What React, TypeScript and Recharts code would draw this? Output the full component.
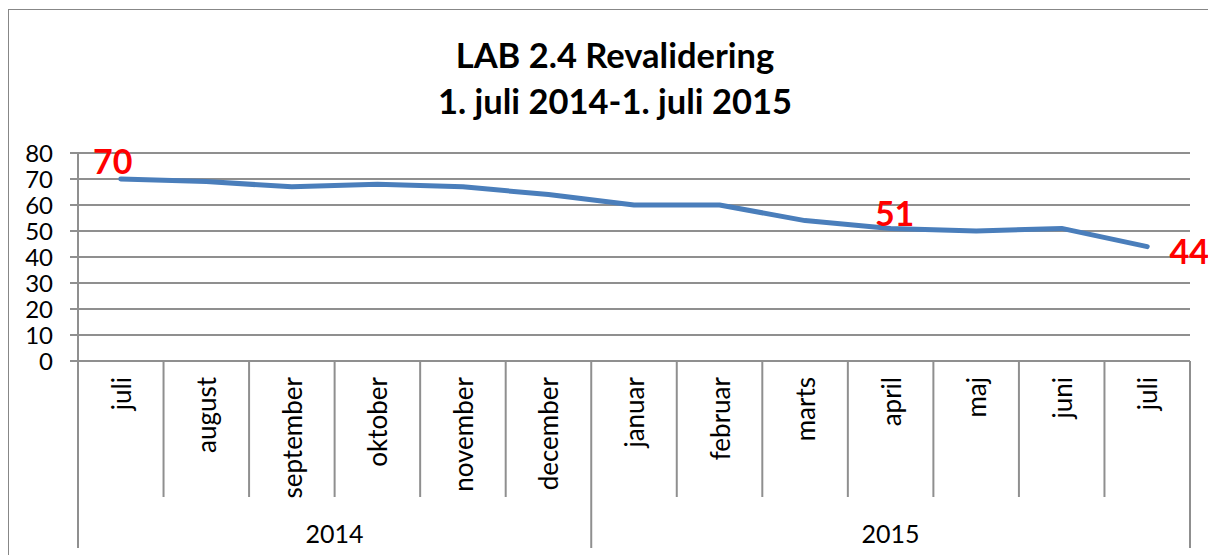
import { LineChart, Line, XAxis, YAxis, CartesianGrid, LabelList } from "recharts";

// ── Data ─────────────────────────────────────────────────────────────────────
const MONTHS = [
  "juli", "august", "september", "oktober", "november", "december",
  "januar", "februar", "marts", "april", "maj", "juni", "juli",
];
const YEARS = [
  "2014", "2014", "2014", "2014", "2014", "2014",
  "2015", "2015", "2015", "2015", "2015", "2015", "2015",
];
const VALUES = [70, 69, 67, 68, 67, 64, 60, 60, 54, 51, 50, 51, 44];
const Y_TICKS = [0, 10, 20, 30, 40, 50, 60, 70, 80];
// points that carry a red value label
const LABELED = [0, 9, 12];

const TITLE_1 = "LAB 2.4 Revalidering";
const TITLE_2 = "1. juli 2014-1. juli 2015";

// ── Styles ───────────────────────────────────────────────────────────────────
const FONT = "Lato, 'Open Sans', sans-serif";
const LINE_COLOR = "#4a7ebb";
const GRID_COLOR = "#8f8f8f";
const LABEL_COLOR = "#ff0000";
const MONTH_AXIS_H = 136;
const YEAR_AXIS_H = 53;
const LABEL_OFFSETS: Record<number, [number, number]> = {
  0: [-8, -19],
  9: [4, -16],
  12: [42, 4],
};

const data = MONTHS.map((m, i) => ({
  key: `${YEARS[i]} ${m}`,
  month: m,
  year: YEARS[i],
  value: VALUES[i],
}));

const isGroupStart = (i: number) => i === 0 || YEARS[i] !== YEARS[i - 1];

function bandOf(props: any) {
  const { payload, width, visibleTicksCount } = props;
  if (payload && payload.offset) return payload.offset * 2;
  return width / (visibleTicksCount || data.length);
}

function MonthTick(props: any) {
  const { x, y, index } = props;
  const bw = bandOf(props);
  const ty = y + 16;
  return (
    <g>
      {!isGroupStart(index) && (
        <line x1={x - bw / 2} x2={x - bw / 2} y1={y} y2={y + MONTH_AXIS_H} stroke={GRID_COLOR} strokeWidth={2} />
      )}
      <text
        x={x}
        y={ty}
        transform={`rotate(-90 ${x} ${ty})`}
        textAnchor="end"
        dominantBaseline="central"
        fontFamily={FONT}
        fontSize={26}
        fill="#000"
      >
        {data[index]?.month}
      </text>
    </g>
  );
}

function YearTick(props: any) {
  const { x, y, index } = props;
  const bw = bandOf(props);
  const left = x - bw / 2;
  const parts: any[] = [];
  if (isGroupStart(index)) {
    let n = 1;
    while (index + n < YEARS.length && YEARS[index + n] === YEARS[index]) n++;
    parts.push(
      <line key="l" x1={left} x2={left} y1={y - MONTH_AXIS_H} y2={y + 51} stroke={GRID_COLOR} strokeWidth={2} />,
      <text
        key="t"
        x={left + (n * bw) / 2}
        y={y + 36}
        textAnchor="middle"
        dominantBaseline="central"
        fontFamily={FONT}
        fontSize={25}
        fill="#000"
      >
        {YEARS[index]}
      </text>
    );
  }
  if (index === YEARS.length - 1) {
    parts.push(
      <line key="r" x1={left + bw} x2={left + bw} y1={y - MONTH_AXIS_H} y2={y + 51} stroke={GRID_COLOR} strokeWidth={2} />
    );
  }
  return <g>{parts}</g>;
}

function ValueLabel(props: any) {
  const { index, value } = props;
  if (!LABELED.includes(index)) return null;
  const x = props.x ?? props.viewBox?.x;
  const y = props.y ?? props.viewBox?.y;
  const [dx, dy] = LABEL_OFFSETS[index] || [0, -18];
  return (
    <text
      x={x + dx}
      y={y + dy}
      textAnchor="middle"
      dominantBaseline="central"
      fontFamily={FONT}
      fontWeight={700}
      fontSize={34}
      fill={LABEL_COLOR}
    >
      {value}
    </text>
  );
}

export default function App() {
  return (
    <>
      <style>{"html,body{overflow:hidden;}body{margin:8px;}"}</style>
      <div
        style={{
          position: "absolute",
          left: 8,
          top: 9,
          width: 1240,
          height: 580,
          borderLeft: "1px solid #878787",
          borderTop: "1px solid #878787",
          background: "#fff",
          overflow: "hidden",
          fontFamily: FONT,
        }}
      >
        <div
          style={{
            position: "absolute",
            top: 22,
            left: 0,
            width: 1212,
            textAlign: "center",
            fontWeight: 700,
            fontSize: 34.5,
            lineHeight: "46px",
            color: "#000",
          }}
        >
          <div>{TITLE_1}</div>
          <div>{TITLE_2}</div>
        </div>
        <div style={{ position: "absolute", left: 0, top: 0 }}>
          <LineChart
            width={1210}
            height={546}
            data={data}
            margin={{ top: 143, right: 29, bottom: 6, left: 0 }}
          >
            <CartesianGrid vertical={false} stroke={GRID_COLOR} strokeWidth={2} />
            <XAxis
              dataKey="key"
              scale="band"
              interval={0}
              height={MONTH_AXIS_H}
              tickSize={0}
              tickMargin={0}
              tickLine={false}
              axisLine={{ stroke: GRID_COLOR, strokeWidth: 2 }}
              tick={<MonthTick />}
            />
            <XAxis
              xAxisId="year"
              dataKey="key"
              scale="band"
              interval={0}
              height={YEAR_AXIS_H}
              tickSize={0}
              tickMargin={0}
              tickLine={false}
              axisLine={false}
              tick={<YearTick />}
            />
            <YAxis
              width={69}
              domain={[0, 80]}
              ticks={Y_TICKS}
              interval={0}
              tickSize={8}
              tickMargin={17}
              tickLine={{ stroke: GRID_COLOR, strokeWidth: 2 }}
              axisLine={{ stroke: GRID_COLOR, strokeWidth: 2 }}
              tick={{ fontSize: 24, fill: "#000", fontFamily: FONT }}
            />
            <Line
              dataKey="value"
              stroke={LINE_COLOR}
              strokeWidth={5}
              strokeLinecap="round"
              strokeLinejoin="round"
              dot={false}
              activeDot={false}
              isAnimationActive={false}
            >
              <LabelList dataKey="value" content={<ValueLabel />} />
            </Line>
          </LineChart>
        </div>
      </div>
    </>
  );
}
